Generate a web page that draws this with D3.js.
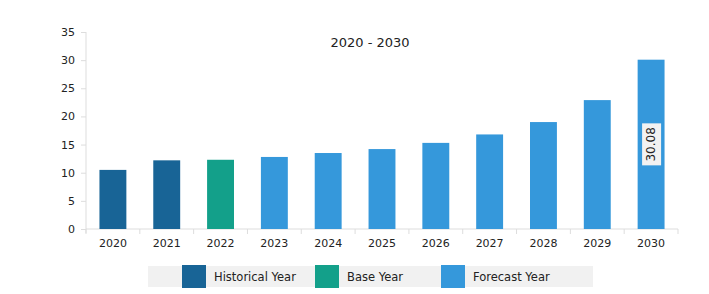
<!DOCTYPE html>
<html>
<head>
<meta charset="utf-8">
<script src="https://cdn.jsdelivr.net/npm/d3@7"></script>
<style>
  body { margin: 0; background: #fff; }
  text { font-family: "DejaVu Sans", sans-serif; fill: #222; }
</style>
</head>
<body>
<svg id="chart" width="709" height="294"></svg>
<script>
// chart data
var years = ["2020", "2021", "2022", "2023", "2024", "2025", "2026", "2027", "2028", "2029", "2030"];
var values = [10.5, 12.2, 12.3, 12.8, 13.5, 14.2, 15.3, 16.8, 19.0, 22.9, 30.08];
var kinds = ["hist", "hist", "base", "fc", "fc", "fc", "fc", "fc", "fc", "fc", "fc"];
var yTicks = [0, 5, 10, 15, 20, 25, 30, 35];
var legendItems = [
    {key: "hist", label: "Historical Year"},
    {key: "base", label: "Base Year"},
    {key: "fc", label: "Forecast Year"}
];
var colors = {hist: "#186496", base: "#13a08a", fc: "#3598db"};

var svg = d3.select("#chart");
var mLeft = 86, mRight = 678, mTop = 32, mBottom = 229;

var x = d3.scaleBand().domain(years).range([mLeft, mRight]).paddingInner(0.5).paddingOuter(0.25);
var y = d3.scaleLinear().domain([0, 35]).range([mBottom, mTop]);

// y axis
var yAxis = svg.append("g")
    .attr("transform", "translate(" + mLeft + ",0)")
    .call(d3.axisLeft(y).tickValues(yTicks).tickSize(5).tickPadding(6));
yAxis.select(".domain").attr("stroke", "#ddd").attr("d", "M0," + mTop + "V" + (mBottom + 4));
yAxis.selectAll(".tick line").attr("stroke", "#ddd");
yAxis.selectAll(".tick text").style("font-size", "11px").attr("fill", "#222");

// x axis: ticks sit between bands
var xg = svg.append("g").attr("transform", "translate(0," + mBottom + ")");
xg.append("line").attr("x1", mLeft).attr("x2", mRight).attr("stroke", "#ddd");
var bounds = d3.range(years.length + 1).map(function(i) { return mLeft + i * (mRight - mLeft) / years.length; });
xg.selectAll("line.sep").data(bounds).enter().append("line")
    .attr("class", "sep")
    .attr("x1", d => d).attr("x2", d => d)
    .attr("y1", 0).attr("y2", 5)
    .attr("stroke", "#ddd");
xg.selectAll("text").data(years).enter().append("text")
    .attr("x", d => x(d) + x.bandwidth() / 2)
    .attr("y", 18)
    .attr("text-anchor", "middle")
    .style("font-size", "11px")
    .text(d => d);

// bars
svg.selectAll("rect.bar").data(values).enter().append("rect")
    .attr("class", "bar")
    .attr("x", (d, i) => x(years[i]))
    .attr("y", d => y(d))
    .attr("width", x.bandwidth())
    .attr("height", d => mBottom - y(d))
    .attr("fill", (d, i) => colors[kinds[i]]);

// title
svg.append("text")
    .attr("x", 370).attr("y", 47)
    .attr("text-anchor", "middle")
    .style("font-size", "13px")
    .text("2020 - 2030");

// value label on last bar
var last = values.length - 1;
var lx = x(years[last]) + x.bandwidth() / 2,
    ly = (y(values[last]) + mBottom) / 2;
var lab = svg.append("g").attr("transform", "translate(" + lx + "," + ly + ") rotate(-90)");
lab.append("rect").attr("x", -21).attr("y", -9).attr("width", 42).attr("height", 19).attr("fill", "#f2f2f2");
lab.append("text").attr("text-anchor", "middle").attr("dy", "0.35em")
    .style("font-size", "12px").text(values[last].toFixed(2));

// legend
var lg = svg.append("g");
lg.append("rect").attr("x", 148).attr("y", 266).attr("width", 445).attr("height", 21).attr("fill", "#f1f1f1");
var legX = [182, 315, 441];
var li = lg.selectAll("g.item").data(legendItems).enter().append("g")
    .attr("transform", (d, i) => "translate(" + legX[i] + ",265)");
li.append("rect").attr("width", 24).attr("height", 23).attr("fill", d => colors[d.key]);
li.append("text").attr("x", 32).attr("y", 16).style("font-size", "11.5px").text(d => d.label);
</script>
</body>
</html>
